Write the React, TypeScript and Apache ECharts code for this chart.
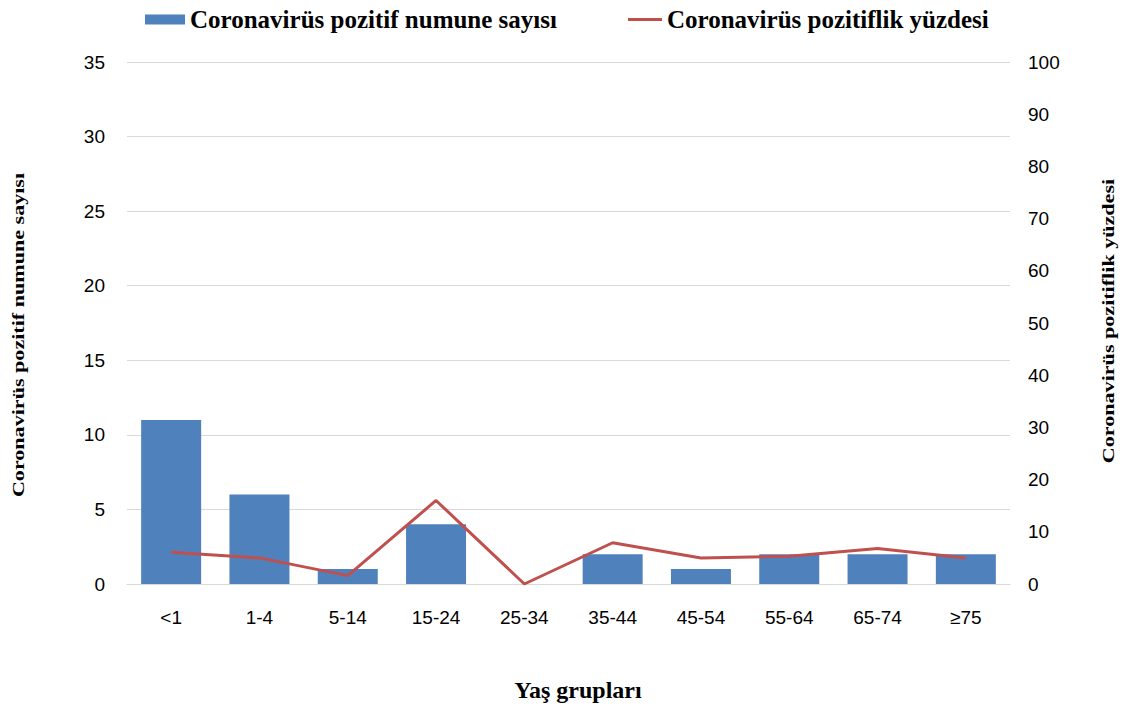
import React, { useEffect, useRef } from "react";
import * as echarts from "echarts";

const categories = ["<1", "1-4", "5-14", "15-24", "25-34", "35-44", "45-54", "55-64", "65-74", "≥75"];
const positiveCounts = [11, 6, 1, 4, 0, 2, 1, 2, 2, 2];
const positivePercent = [6.1, 5, 1.6, 16, 0, 7.9, 5, 5.3, 6.8, 5];
const leftTicks = { min: 0, max: 35, interval: 5 };
const rightTicks = { min: 0, max: 100, interval: 10 };
const barName = "Coronavirüs pozitif numune sayısı";
const lineName = "Coronavirüs pozitiflik yüzdesi";
const xTitle = "Yaş grupları";

const SERIF = "'Liberation Serif', 'Times New Roman', serif";
const SANS = "'Liberation Sans', Arial, sans-serif";

export default function App() {
  const ref = useRef<HTMLDivElement>(null);
  useEffect(() => {
    if (!ref.current) return;
    const chart = echarts.init(ref.current, null, { renderer: "svg" });
    const legendText = { fontFamily: SERIF, fontSize: 25, fontWeight: "bold", color: "#000" };
    chart.setOption({
      animation: false,
      textStyle: { fontFamily: SERIF },
      grid: { left: 127, right: 115, top: 62, bottom: 130 },
      legend: [
        {
          top: 2,
          left: 140,
          itemWidth: 40,
          itemHeight: 10,
          textStyle: legendText,
          data: [{ name: barName, icon: "rect" }],
        },
        {
          top: 2,
          left: 623,
          itemWidth: 34,
          itemHeight: 3,
          textStyle: legendText,
          data: [{ name: lineName, icon: "rect" }],
        },
      ],
      xAxis: {
        type: "category",
        data: categories,
        axisLine: { lineStyle: { color: "#d9d9d9", width: 1 } },
        axisTick: { show: false },
        axisLabel: { color: "#000", fontSize: 19, fontFamily: SANS, margin: 24 },
      },
      yAxis: [
        {
          type: "value",
          ...leftTicks,
          axisLine: { show: false },
          axisTick: { show: false },
          splitLine: { lineStyle: { color: "#d9d9d9" } },
          axisLabel: { color: "#000", fontSize: 19, fontFamily: SANS, margin: 22 },
        },
        {
          type: "value",
          ...rightTicks,
          position: "right",
          axisLine: { show: false },
          axisTick: { show: false },
          splitLine: { show: false },
          axisLabel: { color: "#000", fontSize: 19, fontFamily: SANS, margin: 18 },
        },
      ],
      graphic: [
        {
          type: "text",
          x: 18,
          y: 335,
          rotation: Math.PI / 2,
          scaleX: 1.3,
          style: {
            text: barName,
            fontFamily: SERIF,
            fontSize: 17,
            fontWeight: "bold",
            fill: "#000",
            align: "center",
            verticalAlign: "middle",
          },
        },
        {
          type: "text",
          x: 1108,
          y: 321,
          rotation: Math.PI / 2,
          scaleX: 1.3,
          style: {
            text: lineName,
            fontFamily: SERIF,
            fontSize: 17,
            fontWeight: "bold",
            fill: "#000",
            align: "center",
            verticalAlign: "middle",
          },
        },
        {
          type: "text",
          x: 578,
          y: 690,
          style: {
            text: xTitle,
            fontFamily: SERIF,
            fontSize: 24,
            fontWeight: "bold",
            fill: "#000",
            align: "center",
            verticalAlign: "middle",
          },
        },
      ],
      series: [
        {
          name: barName,
          type: "bar",
          data: positiveCounts,
          barWidth: 60,
          itemStyle: { color: "#4f81bd" },
        },
        {
          name: lineName,
          type: "line",
          yAxisIndex: 1,
          data: positivePercent,
          symbol: "none",
          lineStyle: { color: "#c0504d", width: 3 },
          itemStyle: { color: "#c0504d" },
        },
      ],
    });
    return () => chart.dispose();
  }, []);
  return (
    <div
      ref={ref}
      style={{ position: "fixed", left: 0, top: 0, width: 1125, height: 714, background: "#fff" }}
    />
  );
}
